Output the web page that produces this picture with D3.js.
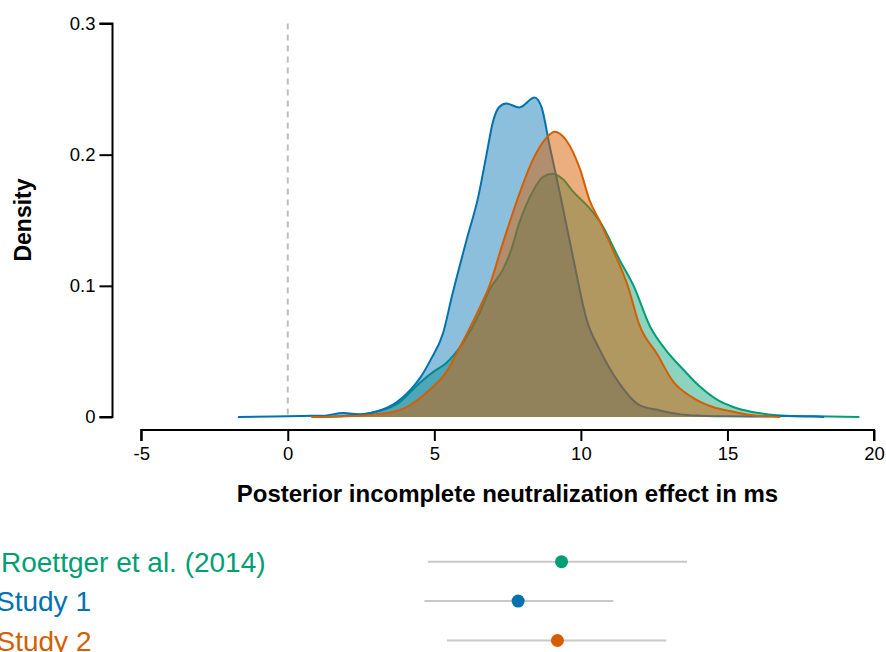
<!DOCTYPE html>
<html>
<head>
<meta charset="utf-8">
<script src="https://cdn.jsdelivr.net/npm/d3@7"></script>
<style>
  body { margin: 0; background: #fff; }
  svg { display: block; font-family: "Liberation Sans", Arial, sans-serif; }
</style>
</head>
<body>
<div id="chart"></div>
<script>
// Data

const studies = ['Roettger et al. (2014)', 'Study 1', 'Study 2']
const colors = ['#009E73', '#0072B2', '#D55E00']

// posterior density curves: [effect in ms, density]
const roettgerDensity = [
  [1.0, 0], [2.0, 0.001], [3.0, 0.004], [3.8, 0.011], [4.5, 0.026], [5.0, 0.035],
  [5.4, 0.041], [5.96, 0.056], [6.54, 0.079], [6.88, 0.097], [7.33, 0.112],
  [7.6, 0.126], [7.9, 0.148], [8.36, 0.172], [8.7, 0.183], [9.04, 0.1855],
  [9.4, 0.181], [9.73, 0.172], [10.3, 0.159], [10.65, 0.149], [11.34, 0.119],
  [11.8, 0.1], [12.36, 0.069], [12.9, 0.051], [13.5, 0.036], [14.07, 0.023],
  [14.66, 0.013], [15.2, 0.0076], [15.8, 0.004], [16.4, 0.002], [17.0, 0.001],
  [18.0, 0.0005], [19.5, 0]
]
const study1Density = [
  [-1.7, 0], [-0.5, 0.0003], [0.5, 0.0008], [1.2, 0.001], [1.9, 0.003], [2.5, 0.002],
  [3.0, 0.004], [3.7, 0.011], [4.2, 0.021], [4.52, 0.03], [4.86, 0.043], [5.3, 0.064],
  [5.6, 0.092], [6.1, 0.135], [6.5, 0.168], [6.78, 0.2], [7.0, 0.225], [7.2, 0.236],
  [7.45, 0.239], [7.9, 0.236], [8.42, 0.2435], [8.66, 0.236], [8.94, 0.206],
  [9.28, 0.171], [9.73, 0.122], [10.2, 0.074], [10.65, 0.051], [11.3, 0.026],
  [12.0, 0.009], [12.7, 0.005], [13.4, 0.002], [14.1, 0.001], [15.0, 0.0005],
  [16.0, 0.0003], [17.0, 0.0008], [18.0, 0.0003], [18.3, 0]
]
const study2Density = [
  [0.8, 0], [2.0, 0.0005], [3.0, 0.002], [3.4, 0.003], [4.0, 0.007], [4.7, 0.018],
  [5.4, 0.034], [5.96, 0.057], [6.54, 0.083], [6.88, 0.1], [7.33, 0.132],
  [7.9, 0.17], [8.36, 0.196], [8.83, 0.213], [9.1, 0.2175], [9.5, 0.211],
  [9.97, 0.189], [10.3, 0.165], [10.65, 0.149], [11.1, 0.127], [11.6, 0.1],
  [12.0, 0.07], [12.6, 0.048], [13.15, 0.027], [13.8, 0.015], [14.5, 0.0076],
  [15.2, 0.004], [15.8, 0.0015], [16.8, 0]
]
const densities = [roettgerDensity, study1Density, study2Density]

// point estimates with 95% intervals
const medians = [9.34, 7.86, 9.2]
const lower = [4.78, 4.66, 5.43]
const upper = [13.62, 11.11, 12.91]

const xTicks = [-5, 0, 5, 10, 15, 20]
const yTicks = [0, 0.1, 0.2, 0.3]

// Layout

const width = 886, height = 652

const svg = d3.select('#chart').append('svg')
  .attr('width', width)
  .attr('height', height)

const x = d3.scaleLinear().domain([-5, 20]).range([141.2, 874])
const y = d3.scaleLinear().domain([0, 0.3]).range([417, 23.5])

// reference line at zero
svg.append('line')
  .attr('x1', x(0)).attr('x2', x(0))
  .attr('y1', y(0.3)).attr('y2', y(0))
  .attr('stroke', '#bdbdbd')
  .attr('stroke-width', 2)
  .attr('stroke-dasharray', '6,5')

// Density curves: green first, then blue, then orange on top

const area = d3.area()
  .x(d => x(d[0]))
  .y0(y(0))
  .y1(d => y(d[1]))
  .curve(d3.curveMonotoneX)

const line = d3.line()
  .x(d => x(d[0]))
  .y(d => y(d[1]))
  .curve(d3.curveMonotoneX)

const fillOpacity = [0.45, 0.45, 0.5]

const drawOrder = [0, 1, 2]
drawOrder.forEach(i => {
  const g = svg.append('g').attr('class', 'density')
  g.append('path')
    .attr('d', area(densities[i]))
    .attr('fill', colors[i])
    .attr('fill-opacity', fillOpacity[i])
  g.append('path')
    .attr('d', line(densities[i]))
    .attr('fill', 'none')
    .attr('stroke', colors[i])
    .attr('stroke-width', 2)
})

// Axes

const yAxis = svg.append('g')
  .attr('transform', 'translate(112.5,0)')
  .call(d3.axisLeft(y).tickValues(yTicks).tickSize(13).tickPadding(4)
    .tickFormat(d => d === 0 ? '0' : d3.format('.1f')(d)))
yAxis.select('.domain').attr('d', 'M-13,' + y(0.3) + 'H0V' + y(0) + 'H-13')
yAxis.selectAll('path, line').attr('stroke', '#000').attr('stroke-width', 2)
yAxis.selectAll('.tick text')
  .attr('font-size', 18.5)
  .attr('fill', '#000')
  .attr('font-family', '"Liberation Sans", Arial, sans-serif')

const xAxis = svg.append('g')
  .attr('transform', 'translate(0,430)')
  .call(d3.axisBottom(x).tickValues(xTicks).tickSize(11).tickPadding(6)
    .tickFormat(d => String(d)))
xAxis.select('.domain').attr('d', 'M' + x(-5) + ',11V0H' + x(20) + 'V11')
xAxis.selectAll('path, line').attr('stroke', '#000').attr('stroke-width', 2)
xAxis.selectAll('.tick text')
  .attr('font-size', 18.5)
  .attr('fill', '#000')
  .attr('font-family', '"Liberation Sans", Arial, sans-serif')

svg.append('text')
  .attr('x', 507.5)
  .attr('y', 502)
  .attr('text-anchor', 'middle')
  .attr('font-size', 24)
  .attr('font-weight', 'bold')
  .text('Posterior incomplete neutralization effect in ms')

svg.append('text')
  .attr('transform', 'translate(31,220) rotate(-90)')
  .attr('text-anchor', 'middle')
  .attr('font-size', 23)
  .attr('font-weight', 'bold')
  .text('Density')

// Interval rows below the chart

const rowY = d3.scalePoint().domain(studies).range([561.7, 640.5])
const labelX = [1, -4, -3.5]

const rows = svg.selectAll('.row')
  .data(studies)
  .enter().append('g')
    .attr('class', 'row')
    .attr('transform', d => 'translate(0,' + rowY(d) + ')')

rows.append('text')
  .attr('x', (d, i) => labelX[i])
  .attr('y', 10)
  .attr('font-size', 28)
  .attr('fill', (d, i) => colors[i])
  .text(d => d)

rows.append('line')
  .attr('x1', (d, i) => x(lower[i]))
  .attr('x2', (d, i) => x(upper[i]))
  .attr('stroke', '#c8c8c8')
  .attr('stroke-width', 2)

rows.append('circle')
  .attr('cx', (d, i) => x(medians[i]))
  .attr('r', 6.5)
  .attr('fill', (d, i) => colors[i])
</script>
</body>
</html>
